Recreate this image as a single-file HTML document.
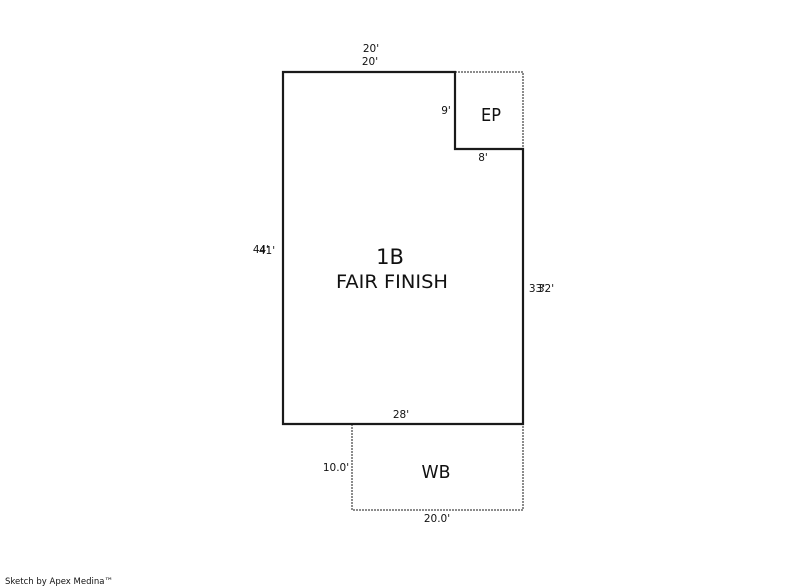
<!DOCTYPE html>
<html>
<head>
<meta charset="utf-8">
<style>
html,body{margin:0;padding:0;background:#fff;}
svg{display:block;}
text{font-family:"DejaVu Sans","Liberation Sans",sans-serif;fill:#111;}
.d{font-size:10.5px;}
</style>
</head>
<body>
<svg width="800" height="587" viewBox="0 0 800 587" xmlns="http://www.w3.org/2000/svg">
<rect width="800" height="587" fill="#fff"/>
<g fill="none" stroke="#8c8c8c" stroke-width="2" stroke-dasharray="2 1">
<path d="M455 72H523V149"/>
<path d="M352 424V510H523V424"/>
</g>
<path d="M283 72H455V149H523V424H283Z" fill="none" stroke="#1a1a1a" stroke-width="2.2"/>
<g text-anchor="middle" class="d">
<text x="371" y="52">20'</text>
<text x="370" y="65">20'</text>
<text x="446" y="114">9'</text>
<text x="483" y="161">8'</text>
<text x="401" y="418">28'</text>
<text x="437" y="522">20.0'</text>
<text x="336" y="471">10.0'</text>
<text x="261" y="253">44'</text>
<text x="267" y="254">41'</text>
<text x="537" y="292">33'</text>
<text x="546" y="292">32'</text>
</g>
<g text-anchor="middle">
<text x="491" y="121" font-size="18" textLength="20" lengthAdjust="spacingAndGlyphs">EP</text>
<text x="390" y="264" font-size="21">1B</text>
<text x="392" y="288" font-size="18.5" textLength="112" lengthAdjust="spacingAndGlyphs">FAIR FINISH</text>
<text x="436" y="478" font-size="18" textLength="29" lengthAdjust="spacingAndGlyphs">WB</text>
</g>
<text x="5" y="584" font-size="9" textLength="108" lengthAdjust="spacingAndGlyphs">Sketch by Apex Medina™</text>
</svg>
</body>
</html>
